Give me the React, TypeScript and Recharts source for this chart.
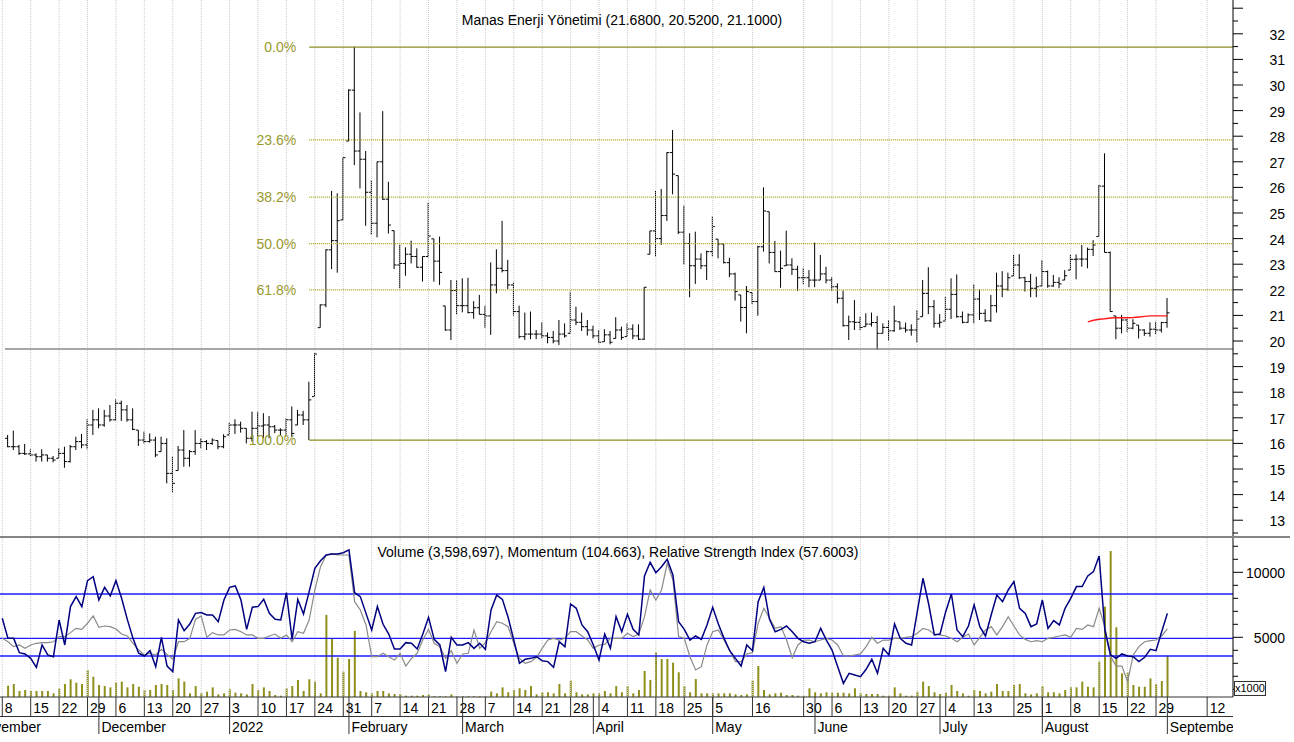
import React from 'react';
import { ComposedChart, Bar, Line, XAxis, YAxis, ReferenceLine } from 'recharts';

const FONT = '"Liberation Sans", Arial, Helvetica, sans-serif';
const W = 1294;
const AXIS_W = 61;
const PLOT_RIGHT = W - AXIS_W;
const TOP_H = 537;
const BOTTOM_H = 205;
const XAXIS_H = 45;

const X_DOMAIN: [number, number] = [-0.4, 216.55];
const PRICE_DOMAIN: [number, number] = [12.344, 33.32];
const LOWER_DOMAIN: [number, number] = [408, 12715];

// calendar: index 0 = 2021-11-08, trading days only (BIST holidays skipped)
const CAL_START = '2021-11-01';
const CAL_START_IDX = -5;
const CAL_END = '2022-09-16';
const HOLIDAYS = ['2022-05-02', '2022-05-03', '2022-05-04', '2022-05-19', '2022-07-11', '2022-07-12', '2022-07-15', '2022-08-30'];
const MIN_WEEK_GAP = 5; // a week mark needs 5 bars since the previous one
const MONTHS = ['January', 'February', 'March', 'April', 'May', 'June', 'July', 'August', 'September', 'October', 'November', 'December'];

// OHLC from 2021-11-09 (index 1) to 2022-09-01 (index 205)
const opens = [
  16.2, 15.87, 15.87, 15.61, 15.59, 15.55, 15.48, 15.55, 15.42, 15.42, 15.61, 15.29, 15.87, 16.07, 15.94, 16.72, 16.92, 16.72, 17.07, 16.92,
  17.57, 17.31, 16.92, 16.52, 16.13, 16.07, 16.13, 15.68, 16.0, 14.83, 14.94, 15.74, 15.42, 15.68, 16.0, 16.07, 16.0, 16.11, 15.87, 16.33,
  16.72, 16.72, 16.59, 16.2, 16.59, 16.68, 16.72, 16.65, 16.52, 16.52, 16.92, 16.72, 17.11, 16.92, 17.83, 20.52, 21.41, 23.56, 23.92, 24.73,
  27.81, 29.8, 27.42, 27.1, 25.81, 24.6, 27.0, 25.54, 24.31, 22.97, 23.03, 23.39, 23.3, 22.88, 23.3, 23.99, 23.12, 21.37, 20.43, 21.97,
  21.38, 21.38, 21.11, 21.3, 21.04, 20.98, 22.19, 22.84, 22.75, 22.19, 21.15, 20.17, 20.27, 20.27, 20.27, 20.2, 20.14, 20.0, 20.27, 20.3,
  20.82, 20.73, 20.56, 20.43, 20.2, 19.97, 20.24, 20.1, 20.43, 20.17, 20.47, 20.2, 20.07, 23.39, 24.3, 24.0, 24.9, 27.36, 26.46, 24.25,
  23.81, 22.94, 23.2, 22.94, 23.49, 23.98, 23.79, 23.06, 22.62, 21.8, 21.31, 21.89, 21.54, 23.68, 25.05, 23.46, 22.71, 22.94, 22.97, 22.8,
  22.47, 22.47, 22.38, 22.38, 22.62, 22.38, 22.12, 21.67, 20.6, 20.75, 20.73, 20.56, 20.66, 20.72, 20.3, 20.53, 20.4, 20.75, 20.5, 20.43,
  20.43, 20.95, 21.86, 21.34, 20.69, 20.78, 21.24, 21.82, 20.95, 20.73, 21.02, 21.64, 21.08, 20.79, 21.38, 22.15, 22.02, 22.54, 22.97, 22.47,
  22.32, 22.06, 22.15, 22.71, 22.15, 22.29, 22.38, 22.77, 23.19, 23.2, 23.2, 23.58, 24.08, 26.05, 23.46, 20.98, 20.5, 20.82, 20.5, 20.62,
  20.43, 20.3, 20.46, 20.43, 20.72,
];
const highs = [
  16.33, 16.5, 15.94, 15.98, 15.77, 15.61, 15.77, 15.55, 15.51, 15.81, 15.87, 15.94, 16.26, 16.37, 16.94, 17.31, 17.37, 17.31, 17.5, 17.72,
  17.67, 17.5, 17.37, 16.52, 16.46, 16.39, 16.26, 16.26, 16.2, 15.48, 15.9, 16.52, 15.74, 16.52, 16.2, 16.13, 16.2, 16.11, 16.36, 16.81,
  16.94, 16.85, 16.59, 17.24, 17.24, 17.18, 17.07, 16.72, 16.59, 16.98, 17.44, 17.31, 17.27, 18.41, 19.52, 21.43, 23.58, 25.86, 25.77, 27.16,
  29.83, 31.5, 28.93, 27.42, 26.29, 27.0, 28.98, 26.22, 24.31, 23.75, 23.66, 23.92, 23.62, 23.3, 25.4, 23.99, 24.08, 21.37, 22.38, 22.38,
  22.45, 22.47, 21.56, 21.8, 21.38, 23.07, 23.58, 24.69, 23.17, 22.29, 21.38, 21.11, 21.15, 20.43, 20.73, 20.33, 20.39, 20.82, 20.69, 21.93,
  21.34, 21.11, 20.82, 20.6, 20.43, 20.46, 20.39, 20.93, 20.56, 20.69, 20.65, 20.65, 22.1, 24.3, 25.86, 25.94, 27.37, 28.24, 26.46, 25.29,
  24.21, 24.27, 23.42, 23.53, 24.86, 23.98, 23.79, 23.25, 22.67, 21.8, 22.15, 21.89, 23.72, 26.0, 25.05, 23.91, 23.53, 24.31, 23.23, 22.94,
  22.86, 22.77, 23.84, 23.36, 22.9, 22.49, 22.25, 21.97, 20.99, 21.6, 20.95, 21.08, 21.11, 20.98, 20.69, 20.82, 21.38, 20.75, 20.72, 20.65,
  21.21, 22.38, 22.88, 21.6, 21.05, 21.73, 22.45, 22.6, 21.15, 21.08, 22.21, 22.02, 21.24, 21.8, 22.67, 22.73, 22.67, 23.36, 23.39, 22.51,
  22.62, 22.51, 23.16, 22.75, 22.58, 22.49, 22.77, 23.38, 23.38, 23.75, 23.65, 23.94, 26.09, 27.33, 23.49, 20.98, 21.02, 20.85, 20.85, 20.62,
  20.46, 20.73, 20.75, 20.75, 21.68,
];
const lows = [
  15.85, 15.74, 15.55, 15.55, 15.51, 15.29, 15.29, 15.29, 15.26, 15.42, 15.05, 15.25, 15.74, 15.81, 15.77, 16.33, 16.59, 16.65, 16.85, 16.88,
  16.88, 16.85, 16.52, 15.9, 16.0, 16.03, 15.46, 15.68, 14.44, 14.08, 14.94, 15.09, 15.09, 15.55, 15.81, 15.74, 15.94, 15.77, 15.81, 16.33,
  16.37, 16.42, 16.0, 16.07, 16.26, 16.2, 16.2, 16.4, 16.33, 16.26, 16.26, 16.72, 16.72, 16.13, 17.83, 20.52, 21.32, 22.81, 22.67, 24.73,
  27.81, 26.87, 25.96, 24.5, 24.14, 24.05, 25.51, 24.2, 22.81, 22.06, 22.55, 23.03, 22.86, 22.32, 23.27, 22.32, 22.19, 20.4, 20.04, 21.04,
  21.12, 21.08, 20.87, 21.04, 20.52, 20.24, 21.86, 22.68, 22.03, 20.99, 20.1, 20.04, 20.07, 20.07, 20.1, 19.91, 19.91, 19.84, 20.13, 20.3,
  20.62, 20.39, 20.21, 20.1, 19.91, 19.97, 19.87, 20.1, 20.04, 20.17, 20.07, 20.04, 20.04, 23.39, 23.3, 23.75, 24.69, 25.73, 24.18, 22.99,
  21.71, 22.23, 22.81, 22.38, 23.3, 23.23, 23.03, 22.49, 21.58, 20.76, 20.3, 21.44, 20.99, 23.49, 23.03, 22.71, 22.08, 22.94, 22.58, 21.95,
  22.21, 22.1, 22.1, 22.38, 22.25, 21.95, 21.47, 20.56, 20.04, 20.43, 20.43, 20.56, 20.56, 19.65, 20.3, 20.01, 20.36, 20.43, 20.33, 20.21,
  19.94, 20.95, 21.05, 20.52, 20.52, 20.78, 20.86, 20.91, 20.69, 20.72, 20.69, 20.82, 20.75, 20.75, 21.11, 21.71, 21.95, 22.54, 22.42, 21.93,
  21.71, 21.71, 22.15, 22.08, 22.12, 22.06, 22.38, 22.77, 22.41, 22.9, 22.84, 23.32, 24.08, 23.46, 21.15, 20.07, 20.3, 20.36, 20.46, 20.1,
  20.2, 20.17, 20.27, 20.33, 20.52,
];
const closes = [
  15.87, 15.87, 15.61, 15.59, 15.55, 15.48, 15.55, 15.42, 15.35, 15.61, 15.29, 15.87, 16.07, 15.94, 16.72, 16.92, 16.72, 17.07, 16.92, 17.57,
  17.31, 16.92, 16.55, 16.13, 16.07, 16.13, 15.55, 16.0, 14.83, 14.44, 15.74, 15.42, 15.68, 16.0, 16.07, 16.0, 16.13, 15.87, 16.26, 16.72,
  16.72, 16.59, 16.2, 16.59, 16.68, 16.72, 16.65, 16.52, 16.52, 16.92, 16.39, 17.11, 16.92, 17.7, 19.49, 21.41, 23.56, 23.92, 24.7, 27.16,
  29.8, 27.42, 27.1, 25.81, 24.6, 27.0, 25.54, 24.53, 22.97, 23.03, 23.39, 23.3, 22.88, 23.3, 24.1, 23.12, 22.68, 20.43, 21.97, 21.38,
  21.38, 21.11, 21.3, 21.04, 20.98, 22.19, 22.84, 22.75, 22.19, 21.15, 20.17, 20.27, 20.27, 20.27, 20.2, 20.14, 20.0, 20.27, 20.2, 20.82,
  20.73, 20.56, 20.43, 20.2, 19.95, 20.24, 19.95, 20.43, 20.14, 20.47, 20.2, 20.07, 22.1, 24.3, 24.0, 24.9, 27.36, 26.52, 24.25, 23.81,
  22.94, 23.2, 22.94, 23.49, 24.47, 23.79, 23.06, 22.62, 21.93, 21.31, 21.93, 21.54, 23.68, 25.08, 23.46, 22.71, 22.84, 22.97, 22.8, 22.47,
  22.47, 22.38, 22.38, 22.62, 22.38, 22.12, 21.67, 20.6, 20.75, 20.73, 20.53, 20.66, 20.72, 20.3, 20.53, 20.4, 20.78, 20.5, 20.43, 20.43,
  20.86, 21.86, 21.34, 20.69, 20.73, 21.24, 21.82, 20.95, 20.73, 21.02, 21.64, 21.08, 20.79, 21.38, 22.15, 22.02, 22.47, 22.97, 22.47, 22.32,
  22.06, 22.12, 22.71, 22.15, 22.29, 22.23, 22.55, 23.19, 23.2, 23.2, 23.58, 23.75, 26.05, 23.46, 21.15, 20.5, 20.82, 20.5, 20.69, 20.43,
  20.3, 20.46, 20.43, 20.72, 21.1,
];

// red average segment, index 191..205
const avgStart = 191;
const avgLine = [20.75, 20.81, 20.85, 20.87, 20.9, 20.91, 20.91, 20.91, 20.92, 20.94, 20.96, 20.98, 20.98, 20.98, 20.98];

// lower panel, plotted in the panel's own units (x1000), volume from index 1
const volume = [
  1280, 1410, 870, 950, 870, 870, 870, 870, 690, 1050, 1410, 1770, 1510, 1410, 2490, 1970, 1330, 1250, 1150, 1510,
  1590, 1150, 1410, 1200, 950, 950, 1330, 1410, 1330, 950, 1840, 1590, 690, 1250, 690, 820, 1150, 610, 690, 1000,
  740, 690, 610, 1410, 950, 1150, 870, 560, 510, 1080, 1250, 1720, 870, 1770, 1590, 690, 6720, 4870, 3430, 2360,
  3330, 5490, 870, 770, 690, 870, 870, 690, 640, 640, 510, 510, 510, 560, 610, 460, 460, 460, 610, 460,
  460, 460, 460, 460, 460, 820, 690, 1150, 770, 950, 1080, 950, 1250, 610, 770, 770, 690, 1410, 690, 1660,
  770, 610, 610, 690, 690, 870, 690, 1250, 770, 1250, 690, 950, 2410, 1720, 3840, 3330, 3330, 3050, 2310, 1250,
  770, 1790, 690, 690, 690, 690, 690, 690, 610, 560, 610, 1660, 2790, 950, 610, 690, 740, 560, 560, 510,
  510, 1080, 770, 690, 770, 740, 740, 740, 690, 1080, 690, 640, 640, 640, 510, 510, 1150, 690, 510, 510,
  820, 1590, 1250, 770, 640, 740, 1330, 870, 690, 510, 950, 870, 690, 820, 1410, 870, 870, 1330, 1410, 690,
  610, 690, 1250, 770, 770, 690, 950, 1150, 1150, 1590, 1200, 1150, 3130, 7360, 11640, 5770, 2230, 2280, 1330, 1200,
  1200, 1840, 1410, 1640, 3599,
];
// momentum and RSI from index 0
const momentum = [
  6460, 4920, 4920, 3820, 3720, 3380, 2690, 4410, 3640, 3510, 6330, 4410, 7360, 8130, 7360, 9360, 9660, 7870, 8840, 8180,
  9360, 8000, 6380, 4920, 3770, 3560, 3970, 2740, 5000, 2790, 2360, 6330, 5510, 6020, 6840, 6900, 6720, 6720, 6200, 7870,
  8840, 8950, 7870, 5610, 7310, 7360, 7920, 6840, 6380, 6330, 8430, 4840, 7920, 6790, 8510, 10300, 10890, 11330, 11410, 11410,
  11510, 11720, 8430, 8130, 6840, 5560, 7360, 6000, 5250, 4100, 4100, 4590, 4540, 4100, 5250, 6540, 4840, 4410, 2360, 5000,
  4410, 4410, 4590, 4150, 4540, 4080, 7100, 8250, 7920, 6540, 4790, 3000, 3310, 3380, 3510, 3200, 3130, 2690, 4660, 4280,
  7560, 7230, 5950, 5430, 4410, 3250, 5250, 4150, 6590, 5430, 6770, 5610, 5180, 9720, 10770, 9970, 10430, 11000, 9790, 6200,
  5610, 4790, 5100, 4840, 5950, 7310, 6020, 4920, 3970, 3380, 2790, 4410, 3970, 7740, 8840, 6380, 5430, 5610, 5870, 5430,
  4920, 4660, 4540, 4660, 5690, 4790, 4020, 2740, 1460, 2230, 2100, 1970, 2540, 3310, 2230, 4150, 3640, 6020, 4920, 4540,
  4410, 6970, 9540, 7560, 5180, 5250, 6970, 8330, 5560, 5050, 5870, 7490, 5820, 5100, 6720, 8250, 7740, 8640, 9280, 7230,
  6840, 5820, 6020, 7870, 5690, 6280, 5950, 7230, 8000, 8900, 8900, 9720, 10050, 11250, 5560, 3640, 3380, 3720, 3560, 3510,
  3130, 3460, 4080, 3970, 5430, 6840,
];
const rsi = [
  4920, 4660, 4280, 4410, 4150, 4410, 4540, 4590, 4590, 4660, 5050, 5050, 5360, 5690, 5610, 6080, 6640, 5770, 5870, 5820,
  5640, 5250, 5100, 4540, 4020, 3640, 3770, 3640, 4080, 3690, 3310, 4660, 4660, 4920, 6380, 6640, 5000, 5360, 5180, 5180,
  5560, 5610, 5430, 5180, 5180, 4920, 4920, 5100, 5250, 4920, 5180, 4660, 5430, 5310, 6330, 8640, 10430, 11330, 11410, 11330,
  11330, 11330, 7740, 7100, 5950, 3510, 3510, 3770, 3510, 3250, 3770, 2790, 3380, 3770, 4790, 5610, 4540, 4280, 3380, 3970,
  3000, 3720, 3770, 5560, 4150, 4590, 5430, 6200, 6080, 5820, 4540, 3380, 3000, 3130, 3460, 4150, 4790, 4920, 4790, 4920,
  5430, 5430, 5100, 4790, 4150, 4410, 4460, 4920, 4920, 4920, 5310, 5050, 5250, 6590, 8640, 7870, 8640, 10690, 9410, 5050,
  4920, 3510, 2490, 2740, 4410, 5430, 5560, 4790, 3970, 3130, 3130, 3720, 3820, 6080, 7230, 6460, 5690, 5820, 4790, 3430,
  4410, 4790, 4790, 4660, 4790, 4920, 4790, 4410, 3560, 3560, 3640, 3720, 4280, 5000, 4540, 4790, 4790, 4920, 4920, 5000,
  5050, 5310, 5690, 5560, 5250, 5180, 5100, 4920, 4660, 5000, 5250, 4410, 5000, 5560, 5820, 5180, 5820, 6590, 5870, 5180,
  4840, 4660, 4740, 4660, 4920, 5000, 5100, 5180, 5000, 5690, 5610, 5950, 5820, 7230, 5820, 3510, 2790, 2790, 1590, 3640,
  4280, 4660, 4740, 4790, 5100, 5640,
];
const levelLines = [8330, 4920, 3560];

// fibonacci retracement from the Jan 21 low to the Feb 2 high
const fibFromIdx = 54;
const fibHigh = 31.48;
const fibLow = 16.13;
const fibRatios = [0, 23.6, 38.2, 50, 61.8, 100];
const supportLine = { fromIdx: 0.45, price: 19.69 };

type Day = { idx: number; key: string; d: Date };
function tradingDays(): Day[] {
  const out: Day[] = [];
  let idx = CAL_START_IDX;
  const end = Date.parse(CAL_END + 'T00:00:00Z');
  for (let t = Date.parse(CAL_START + 'T00:00:00Z'); t <= end; t += 86400000) {
    const d = new Date(t);
    const dow = d.getUTCDay();
    const key = d.toISOString().slice(0, 10);
    if (dow === 0 || dow === 6 || HOLIDAYS.includes(key)) continue;
    out.push({ idx: idx++, key, d });
  }
  return out;
}

type TickInfo = { week?: string; month?: string };
const TICK_INFO = new Map<number, TickInfo>();
const WEEK_IDX: number[] = [];
(() => {
  const days = tradingDays();
  let prevWeek = '';
  let prevMonth = -1;
  let lastWeekIdx = -Infinity;
  for (const day of days) {
    const dow = day.d.getUTCDay();
    const weekKey = new Date(day.d.getTime() - ((dow + 6) % 7) * 86400000).toISOString().slice(0, 10);
    const info: TickInfo = {};
    if (weekKey !== prevWeek && day.idx - lastWeekIdx >= MIN_WEEK_GAP) {
      info.week = String(day.d.getUTCDate());
      WEEK_IDX.push(day.idx);
      lastWeekIdx = day.idx;
    }
    if (day.d.getUTCMonth() !== prevMonth) {
      const m = day.d.getUTCMonth();
      info.month = m === 0 ? String(day.d.getUTCFullYear()) : MONTHS[m];
    }
    prevWeek = weekKey;
    prevMonth = day.d.getUTCMonth();
    if (info.week !== undefined || info.month) TICK_INFO.set(day.idx, info);
  }
})();
const X_TICKS = Array.from(TICK_INFO.keys());

const rows = momentum.map((m, i) => {
  const b = i - 1;
  const has = b >= 0 && b < highs.length;
  const a = i - avgStart;
  return {
    i,
    hl: has ? [lows[b], highs[b]] : undefined,
    open: has ? opens[b] : undefined,
    high: has ? highs[b] : undefined,
    low: has ? lows[b] : undefined,
    close: has ? closes[b] : undefined,
    avg: a >= 0 && a < avgLine.length ? avgLine[a] : null,
    vol: has ? volume[b] : undefined,
    mom: m,
    rsi: rsi[i],
  };
});

const PRICE_TICKS: number[] = [];
for (let v = 12.5; v <= 33; v += 0.5) PRICE_TICKS.push(v);
const LOWER_TICKS: number[] = [];
for (let v = 1000; v <= 12000; v += 1000) LOWER_TICKS.push(v);

function OhlcShape(props: any) {
  const { x, y, width, height, payload } = props;
  if (!payload || payload.high == null || !isFinite(y)) return null;
  const top = Math.min(y, y + height);
  const h = Math.abs(height);
  const cx = x + width / 2;
  const span = payload.high - payload.low || 1;
  const yo = top + ((payload.high - payload.open) / span) * h;
  const yc = top + ((payload.high - payload.close) / span) * h;
  return (
    <g stroke="#000" strokeWidth={1}>
      <line x1={cx} x2={cx} y1={top} y2={top + Math.max(h, 1)} />
      <line x1={cx - 2.5} x2={cx} y1={yo} y2={yo} />
      <line x1={cx} x2={cx + 2.5} y1={yc} y2={yc} />
    </g>
  );
}

function PriceTick(props: any) {
  const { x, y, payload } = props;
  const v = payload.value;
  const major = Math.abs(v - Math.round(v)) < 1e-6;
  return (
    <g>
      <line x1={x} x2={x + (major ? 10 : 5)} y1={y} y2={y} stroke="#000" />
      {major && v <= 32 && (
        <text x={x + 52} y={y + 6} textAnchor="end" fontSize={14} fontFamily={FONT} fill="#000">{v}</text>
      )}
    </g>
  );
}

function LowerTick(props: any) {
  const { x, y, payload } = props;
  const v = payload.value;
  const major = v % 5000 === 0;
  return (
    <g>
      <line x1={x} x2={x + (major ? 10 : 5)} y1={y} y2={y} stroke="#000" />
      {major && (
        <text x={x + 52} y={y + 6} textAnchor="end" fontSize={14} fontFamily={FONT} fill="#000">{v}</text>
      )}
    </g>
  );
}

function DateTick(props: any) {
  const { x, y, payload } = props;
  const info = TICK_INFO.get(payload.value);
  if (!info) return null;
  return (
    <g>
      {info.week !== undefined && <line x1={x} x2={x} y1={y} y2={y + 19.5} stroke="#333" />}
      {info.week ? (
        <text x={x + 2.5} y={y + 16} fontSize={14} fontFamily={FONT} fill="#000">{info.week}</text>
      ) : null}
      {info.month && <line x1={x} x2={x} y1={y} y2={y + 37} stroke="#333" />}
      {info.month && (
        <svg x={0} y={0} width={PLOT_RIGHT} height={BOTTOM_H} overflow="hidden">
          <text x={x + 2.5} y={y + 34.5} fontSize={14} fontFamily={FONT} fill="#000">{info.month}</text>
        </svg>
      )}
    </g>
  );
}

const gridLines = (prefix: string) =>
  WEEK_IDX.filter((w) => w >= 0).map((w) => (
    <ReferenceLine key={prefix + w} x={w} stroke="#cacaca" strokeDasharray="1 1" strokeWidth={1} />
  ));

export default function App() {
  const fibSpan = fibHigh - fibLow;
  return (
    <div style={{ position: 'absolute', left: 0, top: 0, width: W, height: 742, background: '#fff', fontFamily: FONT, overflow: 'hidden' }}>
      <div style={{ position: 'absolute', left: 0, top: 0 }}>
        <ComposedChart width={W} height={TOP_H} data={rows} margin={{ top: 0, right: 0, bottom: 0, left: 0 }}>
          <XAxis dataKey="i" type="number" domain={X_DOMAIN} allowDataOverflow hide />
          <YAxis
            orientation="right"
            width={AXIS_W}
            domain={PRICE_DOMAIN}
            allowDataOverflow
            ticks={PRICE_TICKS}
            interval={0}
            tickSize={0}
            tickMargin={0}
            tickLine={false}
            axisLine={{ stroke: '#000' }}
            tick={<PriceTick />}
          />
          {gridLines('t')}
          {fibRatios.map((r) => {
            const solid = r === 0 || r === 100;
            const level = fibHigh - (fibSpan * r) / 100;
            return (
              <ReferenceLine
                key={'fib' + r}
                segment={[{ x: fibFromIdx, y: level }, { x: X_DOMAIN[1], y: level }]}
                stroke={solid ? '#8c8c22' : '#a3a31a'}
                strokeWidth={solid ? 1.4 : 1.2}
                strokeDasharray={solid ? undefined : '1 1'}
                label={{ value: r.toFixed(1) + '%', position: 'left', offset: 13, fill: '#99992e', fontSize: 14, fontFamily: FONT }}
              />
            );
          })}
          <ReferenceLine
            segment={[{ x: supportLine.fromIdx, y: supportLine.price }, { x: X_DOMAIN[1], y: supportLine.price }]}
            stroke="#8a8a8a"
            strokeWidth={1.5}
          />
          <Bar dataKey="hl" barSize={3} isAnimationActive={false} shape={<OhlcShape />} />
          <Line dataKey="avg" stroke="#ff1a1a" strokeWidth={1.4} dot={false} isAnimationActive={false} connectNulls={false} />
        </ComposedChart>
      </div>
      <div style={{ position: 'absolute', left: 0, top: TOP_H }}>
        <ComposedChart width={W} height={BOTTOM_H} data={rows} margin={{ top: 0, right: 0, bottom: 0, left: 0 }}>
          <XAxis
            dataKey="i"
            type="number"
            domain={X_DOMAIN}
            allowDataOverflow
            ticks={X_TICKS}
            interval={0}
            height={XAXIS_H}
            tickSize={0}
            tickMargin={0}
            tickLine={false}
            axisLine={{ stroke: '#333' }}
            tick={<DateTick />}
          />
          <YAxis
            orientation="right"
            width={AXIS_W}
            domain={LOWER_DOMAIN}
            allowDataOverflow
            ticks={LOWER_TICKS}
            interval={0}
            tickSize={0}
            tickMargin={0}
            tickLine={false}
            axisLine={{ stroke: '#000' }}
            tick={<LowerTick />}
          />
          {gridLines('b')}
          <Bar dataKey="vol" barSize={2} fill="#8f8f1c" isAnimationActive={false} />
          {levelLines.map((v) => (
            <ReferenceLine key={'lvl' + v} y={v} stroke="#1c1cff" strokeWidth={1.4} />
          ))}
          <Line dataKey="rsi" stroke="#8a8a8a" strokeWidth={1.2} dot={false} isAnimationActive={false} />
          <Line dataKey="mom" stroke="#000080" strokeWidth={1.5} dot={false} isAnimationActive={false} />
        </ComposedChart>
      </div>
      <div style={{ position: 'absolute', left: 0, top: 536, width: 1290, height: 2, background: '#858585' }} />
      <div style={{ position: 'absolute', left: 0, top: 716, width: PLOT_RIGHT, height: 1, background: '#333' }} />
      <div style={{ position: 'absolute', left: 0, top: 11, width: 1244, textAlign: 'center', fontSize: 14, lineHeight: '18px', color: '#000' }}>
        Manas Enerji Yönetimi (21.6800, 20.5200, 21.1000)
      </div>
      <div style={{ position: 'absolute', left: 0, top: 543, width: 1236, textAlign: 'center', fontSize: 14, lineHeight: '18px', color: '#000' }}>
        Volume (3,598,697), Momentum (104.663), Relative Strength Index (57.6003)
      </div>
      <div style={{ position: 'absolute', left: 1234, top: 681, width: 30, height: 13, border: '1px solid #333', fontSize: 11, lineHeight: '13px', textAlign: 'center', background: '#fff' }}>
        x1000
      </div>
    </div>
  );
}
